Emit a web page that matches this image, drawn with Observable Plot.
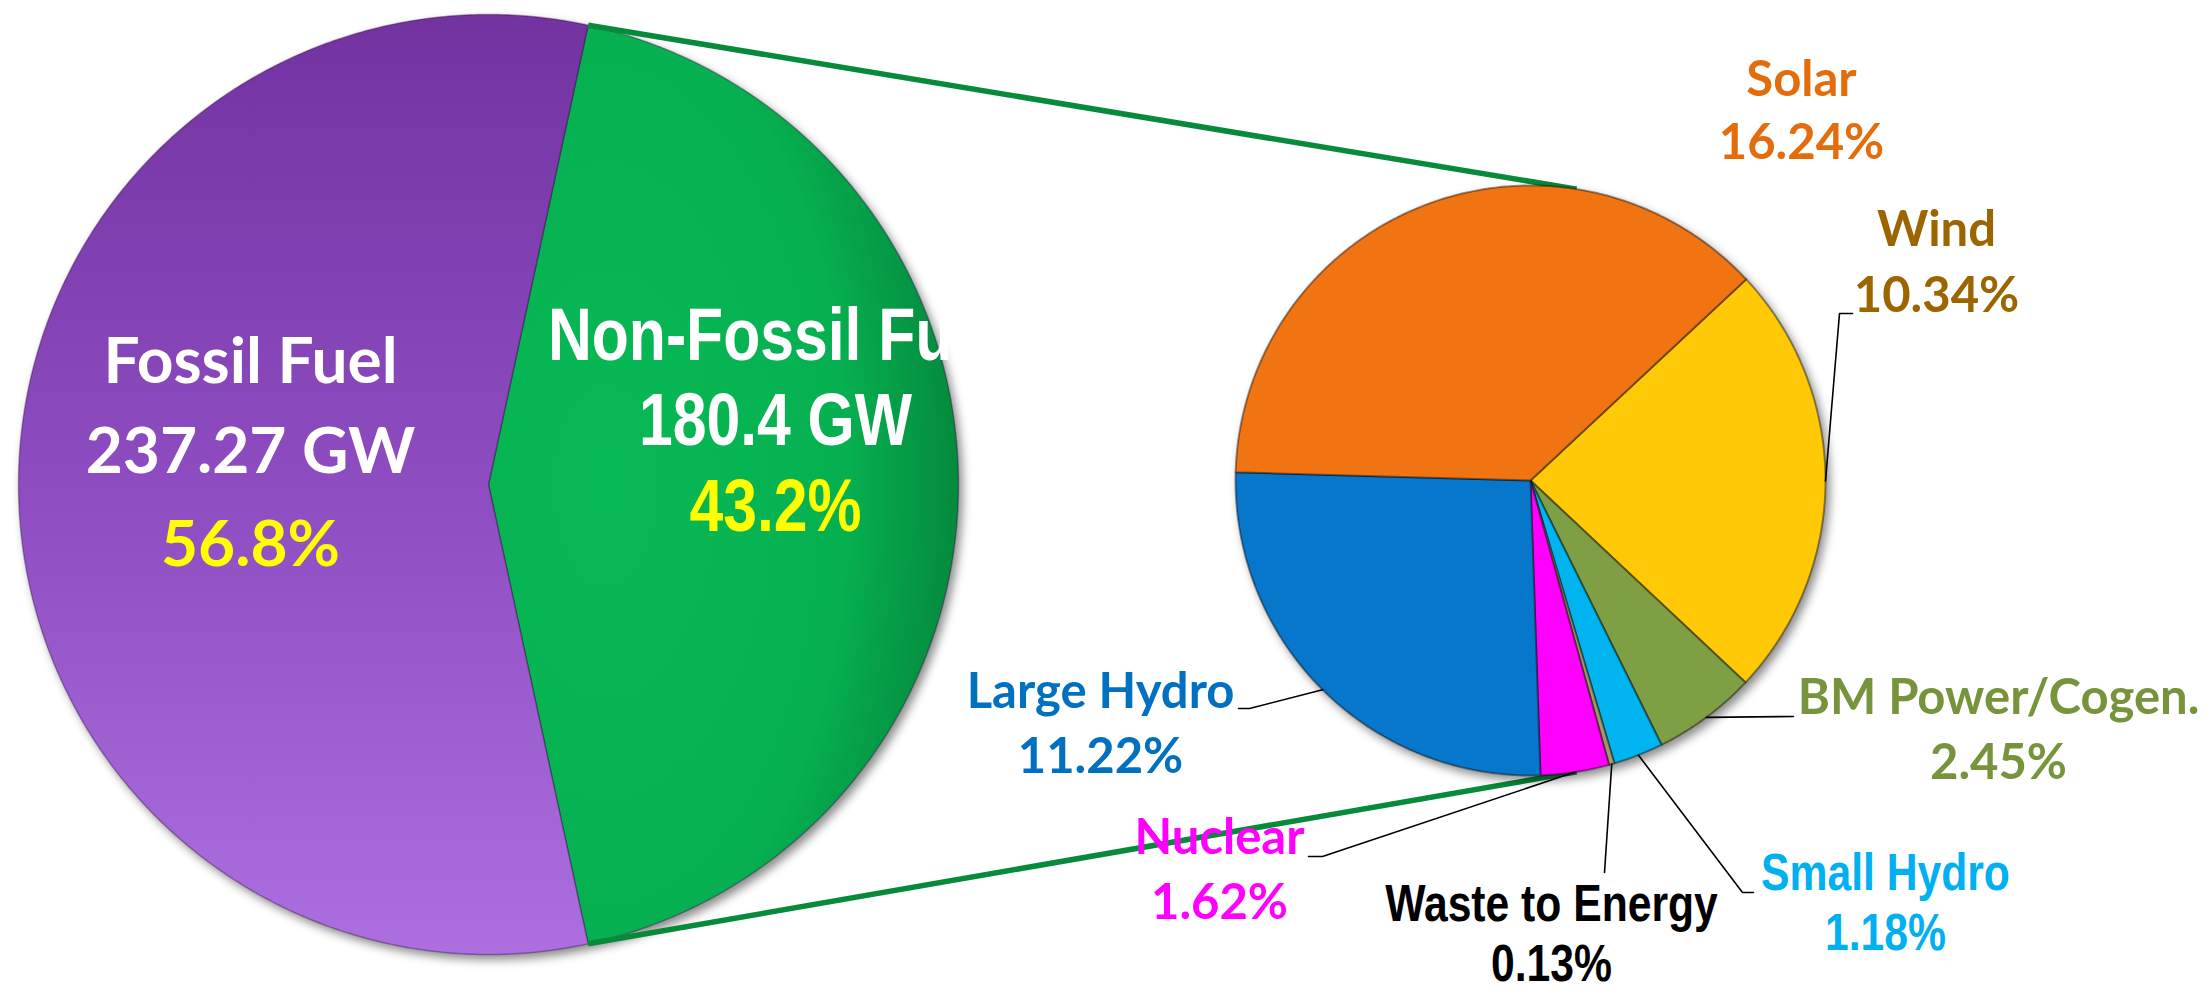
<!DOCTYPE html>
<html>
<head>
<meta charset="utf-8">
<script src="https://cdn.jsdelivr.net/npm/d3@7"></script>
<script src="https://cdn.jsdelivr.net/npm/@observablehq/plot@0.6"></script>
<style>
  html, body { margin: 0; padding: 0; background: #ffffff; }
  #chart { width: 2207px; height: 990px; overflow: hidden; }
</style>
</head>
<body>
<div id="chart"></div>
<script>
// ---------------- DATA ----------------
const sourceNames = ["Non-Fossil Fuel", "Fossil Fuel"];
const sourceGW = [180.4, 237.27];
const sourceShare = [43.2, 56.8];

const mixNames = ["Wind", "BM Power/Cogen.", "Small Hydro", "Waste to Energy", "Nuclear", "Large Hydro", "Solar"];
const mixShare = [10.34, 2.45, 1.18, 0.13, 1.62, 11.22, 16.24];

// ---------------- LAYOUT / STYLE ----------------
const W = 2207, H = 990;
const deg = Math.PI / 180;
// the non-fossil slice is centred on the right-hand side of the big pie
const bigPie = {cx: 488, cy: 484, r: 470, start: 90 - sourceShare[0] / 100 * 180};
const smallPie = {cx: 1530, cy: 480, r: 295, start: 47};

const sliceFill = {
  "Fossil Fuel": "url(#gFossil)",
  "Non-Fossil Fuel": "url(#gNon)",
  "Wind": "#FFC907",
  "BM Power/Cogen.": "#7F9F45",
  "Small Hydro": "#00B5EF",
  "Waste to Energy": "#A39A68",
  "Nuclear": "#FF00FF",
  "Large Hydro": "#0777CB",
  "Solar": "#F07412"
};

const LATO = "Lato, 'Open Sans', sans-serif";
const NARROW = "'Liberation Sans', Arial, sans-serif"; // squeezed to a narrow face after rendering
const mixLabelStyle = {
  "Solar":           {dx: 271,  dy: -383, gap: 63, color: "#E46C0A", font: LATO,   size: 49},
  "Wind":            {dx: 406,  dy: -233, gap: 66, color: "#9C6500", font: LATO,   size: 49},
  "BM Power/Cogen.": {dx: 468,  dy: 235,  gap: 65, color: "#77933C", font: LATO,   size: 49},
  "Small Hydro":     {dx: 355,  dy: 412,  gap: 60, color: "#00B0F0", font: NARROW, size: 52},
  "Waste to Energy": {dx: 21,   dy: 443,  gap: 60, color: "#000000", font: NARROW, size: 52},
  "Nuclear":         {dx: -311, dy: 375,  gap: 65, color: "#FF00FF", font: LATO,   size: 49},
  "Large Hydro":     {dx: -430, dy: 229,  gap: 65, color: "#0070C0", font: LATO,   size: 49}
};
const leaderBends = {
  "Wind":            [[309, -167], [322, -167]],
  "BM Power/Cogen.": [[263, 236]],
  "Small Hydro":     [[212, 412], [223, 412]],
  "Waste to Energy": [[74, 392]],
  "Nuclear":         [[-208, 376], [-222, 376]],
  "Large Hydro":     [[-281, 228], [-292, 228]]
};
const connectorTargets = [9, 171];

// ---------------- GEOMETRY FROM DATA ----------------
function polar(c, a, r) { return [c.cx + r * Math.sin(a), c.cy - r * Math.cos(a)]; }

function buildPie(names, values, c) {
  const arcs = d3.pie().sort(null).value(d => d.v)
    .startAngle(c.start * deg).endAngle(c.start * deg + 2 * Math.PI)(names.map((n, i) => ({n, v: values[i]})));
  const pts = [];
  for (const a of arcs) {
    pts.push({name: a.data.n, x: c.cx, y: c.cy});
    const steps = Math.max(2, Math.ceil((a.endAngle - a.startAngle) / deg * 2));
    for (let k = 0; k <= steps; k++) {
      const t = a.startAngle + (a.endAngle - a.startAngle) * k / steps;
      const [x, y] = polar(c, t, c.r);
      pts.push({name: a.data.n, x, y});
    }
  }
  return {arcs, pts};
}

const big = buildPie(sourceNames, sourceShare, bigPie);
const small = buildPie(mixNames, mixShare, smallPie);

const nonArc = big.arcs[0];
const connectors = [];
[[nonArc.startAngle, connectorTargets[0]], [nonArc.endAngle, connectorTargets[1]]].forEach(([a, t], i) => {
  const [x1, y1] = polar(bigPie, a, bigPie.r);
  const [x2, y2] = polar(smallPie, t * deg, smallPie.r);
  connectors.push({id: i, x: x1, y: y1}, {id: i, x: x2, y: y2});
});

const leaders = [];
for (const a of small.arcs) {
  const n = a.data.n;
  if (!leaderBends[n]) continue;
  const mid = (a.startAngle + a.endAngle) / 2;
  const [x0, y0] = polar(smallPie, mid, smallPie.r);
  leaders.push({name: n, x: x0, y: y0});
  for (const [dx, dy] of leaderBends[n]) leaders.push({name: n, x: smallPie.cx + dx, y: smallPie.cy + dy});
}

// ---------------- MARKS ----------------
const marks = [];
marks.push(Plot.line(big.pts, {x: "x", y: "y", z: "name", fill: "name", stroke: "rgba(40,0,60,0.35)", strokeWidth: 1.5, curve: "linear-closed", ariaDescription: "bigpie"}));

const bigLabel = [
  {x: 250, base: 385, font: LATO, size: 64, narrow: false},
  {x: 775, base: 362, font: NARROW, size: 74, narrow: true}
];
sourceNames.forEach((n, i) => {
  const L = bigLabel[1 - i];
  const lines = [
    {t: n, base: L.base, fill: "#ffffff"},
    {t: `${sourceGW[i]} GW`, base: L.base + (i === 0 ? 85 : 90), fill: "#ffffff"},
    {t: `${sourceShare[i]}%`, base: L.base + (i === 0 ? 171 : 183), fill: "#FFFF00"}
  ];
  lines.forEach((ln, j) => {
    marks.push(Plot.text([ln], {
      x: () => L.x, y: () => ln.base - 0.36 * L.size, text: d => d.t,
      fill: ln.fill, fontSize: L.size, fontFamily: L.font, fontWeight: "bold",
      textAnchor: "middle", lineAnchor: "middle",
      ariaDescription: (i === 0 && j === 0) ? "narrow-clip" : (L.narrow ? "narrow" : "label")
    }));
  });
});

marks.push(Plot.line(connectors, {x: "x", y: "y", z: "id", stroke: "#078A3A", strokeWidth: 5.5, strokeLinecap: "butt"}));

marks.push(Plot.line(small.pts, {x: "x", y: "y", z: "name", fill: "name", stroke: "rgba(0,0,0,0.4)", strokeWidth: 2, curve: "linear-closed", ariaDescription: "smallpie"}));

marks.push(Plot.line(leaders, {x: "x", y: "y", z: "name", stroke: "#000000", strokeWidth: 1.6}));

mixNames.forEach((n, i) => {
  const s = mixLabelStyle[n];
  const x = smallPie.cx + s.dx;
  const b = smallPie.cy + s.dy;
  [[n, b], [`${mixShare[i].toFixed(2)}%`, b + s.gap]].forEach(([t, base]) => {
    marks.push(Plot.text([t], {
      x: () => x, y: () => base - 0.36 * s.size, text: d => d,
      fill: s.color, fontSize: s.size, fontFamily: s.font, fontWeight: "bold",
      textAnchor: "middle", lineAnchor: "middle",
      ariaDescription: s.font === NARROW ? "narrow" : "label"
    }));
  });
});

const chart = Plot.plot({
  width: W, height: H, margin: 0,
  x: {domain: [0, W], range: [0, W], axis: null},
  y: {domain: [0, H], range: [0, H], axis: null},
  color: {domain: Object.keys(sliceFill), range: Object.values(sliceFill)},
  style: {background: "#ffffff", overflow: "hidden"},
  marks
});

const svg = d3.select(chart);
const defs = svg.insert("defs", ":first-child");
const gf = defs.append("linearGradient").attr("id", "gFossil").attr("x1", 0).attr("y1", 0).attr("x2", 0).attr("y2", 1);
gf.append("stop").attr("offset", "0%").attr("stop-color", "#7232A0");
gf.append("stop").attr("offset", "55%").attr("stop-color", "#9050C4");
gf.append("stop").attr("offset", "100%").attr("stop-color", "#AD6FDF");
const gn = defs.append("radialGradient").attr("id", "gNon").attr("cx", 0.25).attr("cy", 0.5).attr("r", 0.85);
gn.append("stop").attr("offset", "0%").attr("stop-color", "#07B955");
gn.append("stop").attr("offset", "60%").attr("stop-color", "#06B050");
gn.append("stop").attr("offset", "100%").attr("stop-color", "#047A36");
defs.append("clipPath").attr("id", "clipNon").append("rect").attr("x", 0).attr("y", 0).attr("width", 949).attr("height", H);

svg.selectAll('[aria-description="bigpie"], [aria-description="smallpie"]')
  .style("filter", "drop-shadow(4px 5px 5px rgba(0,0,0,0.45))");
svg.selectAll('[aria-description="narrow-clip"]').attr("clip-path", "url(#clipNon)");

document.getElementById("chart").appendChild(chart);

// squeeze the narrow-face texts (Arial Narrow look)
svg.selectAll('[aria-description="narrow"] text, [aria-description="narrow-clip"] text').each(function() {
  const len = this.getComputedTextLength();
  if (len > 0) {
    this.setAttribute("textLength", (len * 0.82).toFixed(1));
    this.setAttribute("lengthAdjust", "spacingAndGlyphs");
  }
});
</script>
</body>
</html>
